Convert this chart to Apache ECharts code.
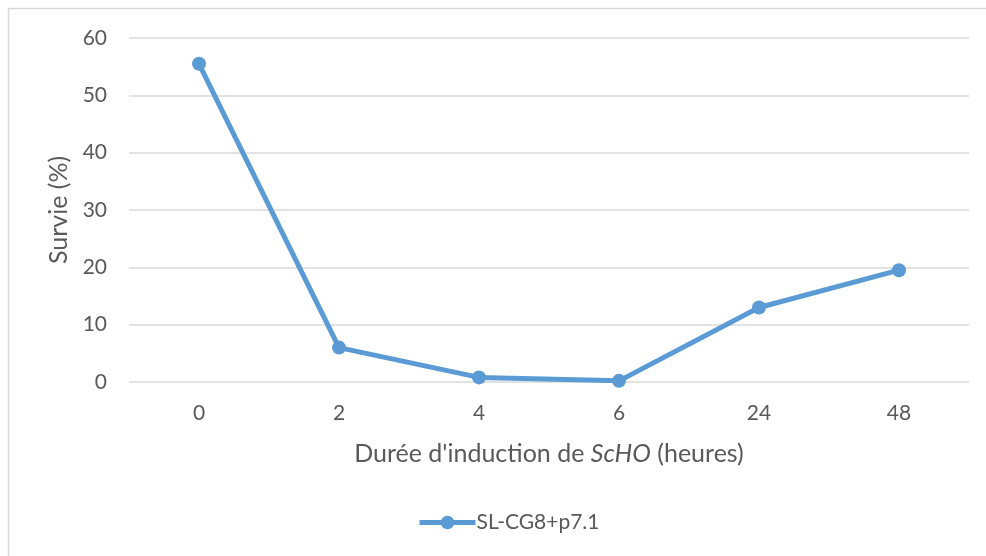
<!DOCTYPE html>
<html>
<head>
<meta charset="utf-8">
<script src="https://cdn.jsdelivr.net/npm/echarts@6/dist/echarts.min.js"></script>
<style>
  html, body { margin: 0; padding: 0; background: #fff; }
  #chart { width: 986px; height: 556px; }
</style>
</head>
<body>
<div id="chart"></div>
<script>
// Induction time categories (hours) and survival percentages
const categories = ['0', '2', '4', '6', '24', '48'];
const survie = [55.5, 6, 0.8, 0.2, 13, 19.5];
const seriesName = 'SL-CG8+p7.1';
const yTicks = { min: 0, max: 60, interval: 10 };

const textColor = '#595959';
const fontFamily = 'Lato, "Open Sans", sans-serif';
const lineColor = '#5B9BD5';

const chart = echarts.init(document.getElementById('chart'), null, { renderer: 'canvas' });

chart.setOption({
  animation: false,
  backgroundColor: '#ffffff',
  textStyle: { fontFamily: fontFamily, color: textColor },
  graphic: [{
    type: 'rect',
    shape: { x: 8.5, y: 8.5, width: 1000, height: 600 },
    style: { fill: 'none', stroke: '#d9d9d9', lineWidth: 1.5 },
    silent: true,
    z: -1
  }],
  grid: { left: 129, right: 17, top: 38, bottom: 174, containLabel: false },
  legend: {
    data: [seriesName],
    top: 507,
    left: 412,
    itemWidth: 56,
    itemHeight: 17,
    itemGap: 0,
    lineStyle: { width: 5 },
    textStyle: { fontSize: 21, color: textColor, fontFamily: fontFamily, padding: [0, 0, 0, -4] }
  },
  xAxis: {
    type: 'category',
    data: categories,
    boundaryGap: true,
    axisLine: { show: false },
    axisTick: { show: false },
    axisLabel: { color: textColor, fontSize: 21, margin: 21, fontFamily: fontFamily },
    name: '{a|Durée d\'induction de }{i|ScHO}{a| (heures)}',
    nameLocation: 'middle',
    nameGap: 59,
    nameTextStyle: {
      rich: {
        a: { fontSize: 25, color: textColor, fontFamily: fontFamily },
        i: { fontSize: 25, color: textColor, fontFamily: fontFamily, fontStyle: 'italic' }
      }
    }
  },
  yAxis: {
    type: 'value',
    min: yTicks.min,
    max: yTicks.max,
    interval: yTicks.interval,
    axisLine: { show: false },
    axisTick: { show: false },
    axisLabel: { color: textColor, fontSize: 21, margin: 22, fontFamily: fontFamily },
    splitLine: { lineStyle: { color: '#d9d9d9', width: 1.5 } },
    name: 'Survie (%)',
    nameLocation: 'middle',
    nameGap: 55,
    nameTextStyle: { fontSize: 25, color: textColor, fontFamily: fontFamily }
  },
  series: [{
    name: seriesName,
    type: 'line',
    data: survie,
    symbol: 'circle',
    symbolSize: 14,
    lineStyle: { color: lineColor, width: 5 },
    itemStyle: { color: lineColor },
    emphasis: { disabled: true }
  }]
});
</script>
</body>
</html>
